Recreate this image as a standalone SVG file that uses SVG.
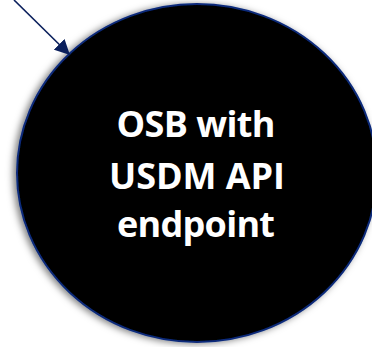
<svg xmlns="http://www.w3.org/2000/svg" width="372" height="347" viewBox="0 0 372 347">
  <style>
    .lbl { font-family: "Open Sans", "Noto Sans", "Liberation Sans", sans-serif; font-weight: bold; font-size: 36px; fill: #ffffff; text-anchor: middle; }
    .conn { stroke: #0a1f5c; stroke-width: 1.6; fill: none; }
  </style>
  <defs>
    <marker id="arrow" viewBox="0 0 10 10" refX="10" refY="5" markerWidth="9.5" markerHeight="9.5" markerUnits="strokeWidth" orient="auto">
      <path d="M0,0 L10,5 L0,10 z" fill="#0a1f5c"/>
    </marker>
    <filter id="shadow" x="-10%" y="-10%" width="120%" height="120%">
      <feDropShadow dx="-3" dy="1" stdDeviation="3.5" flood-color="#000" flood-opacity="0.5"/>
    </filter>
  </defs>
  <g id="node-osb">
    <ellipse cx="197" cy="173" rx="180" ry="169" fill="#000000" stroke="#0a2a7a" stroke-width="2" filter="url(#shadow)"/>
    <text class="lbl" x="196" y="137" textLength="159">OSB with</text>
    <text class="lbl" x="197" y="189" textLength="176">USDM API</text>
    <text class="lbl" x="196" y="237" textLength="158">endpoint</text>
  </g>
  <g id="connectors">
    <line class="conn" x1="14" y1="0" x2="70" y2="55" marker-end="url(#arrow)"/>
  </g>
</svg>
